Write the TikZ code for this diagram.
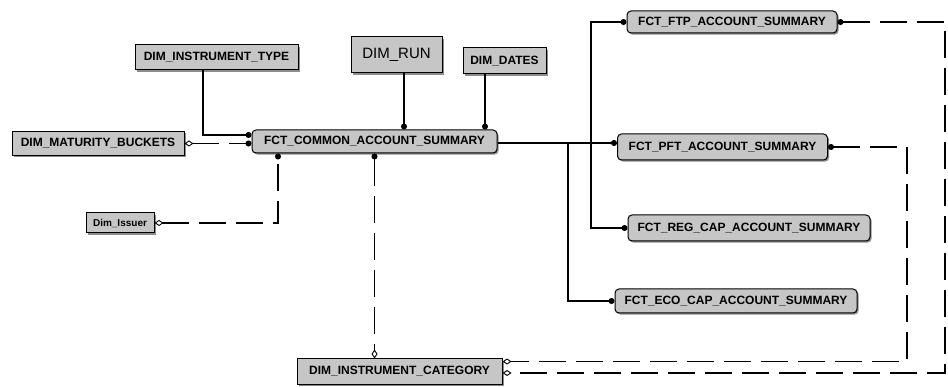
\documentclass[tikz,border=0pt]{standalone}
\usepackage{fontspec}
\setmainfont{Liberation Sans}
\newfontfamily\erfont{Liberation Sans}
\usetikzlibrary{positioning,arrows.meta,shadows}
\definecolor{erfill}{RGB}{198,198,198}
\tikzset{
  erdim/.style={rectangle, draw=black, fill=erfill, line width=1pt, inner sep=0pt,
    font=\erfont\bfseries\fontsize{12}{14}\selectfont,
    drop shadow={shadow xshift=1.6pt, shadow yshift=-1.6pt, fill=black!75, opacity=0.6}},
  erfct/.style={erdim, rounded corners=4pt},
  erlink/.style={draw=black, line width=1.1pt},
  eropt/.style={erlink, dash pattern=on 27pt off 10pt},
  erdot/.tip={Circle[length=6pt]},
  erdia/.tip={Diamond[open, length=9pt, width=6pt, line width=0.9pt]}
}
\begin{document}
\begin{tikzpicture}[x=1pt, y=-1pt]
  \useasboundingbox (0,0) rectangle (948,387);
  % dimension tables
  \node[erdim, minimum width=163pt, minimum height=25pt] (itype) at (216.5,57.5) {DIM\_INSTRUMENT\_TYPE};
  \node[erdim, minimum width=172pt, minimum height=24pt] (mat) at (98,143.5) {DIM\_MATURITY\_BUCKETS};
  \node[erdim, minimum width=91pt, minimum height=36pt, font=\fontsize{15}{18}\selectfont] (run) at (396.5,55) {DIM\_RUN};
  \node[erdim, minimum width=83pt, minimum height=26pt] (dates) at (504.5,61) {DIM\_DATES};
  \node[erdim, minimum width=68pt, minimum height=20pt, font=\erfont\bfseries\fontsize{10}{12}\selectfont] (issuer) at (120,223) {Dim\_Issuer};
  \node[erdim, minimum width=205pt, minimum height=25pt] (cat) at (399.5,371.5) {DIM\_INSTRUMENT\_CATEGORY};
  % fact tables
  \node[erfct, minimum width=245pt, minimum height=23pt] (common) at (374.5,141.5) {FCT\_COMMON\_ACCOUNT\_SUMMARY};
  \node[erfct, minimum width=210pt, minimum height=22pt] (ftp) at (732,22) {FCT\_FTP\_ACCOUNT\_SUMMARY};
  \node[erfct, minimum width=210pt, minimum height=26pt] (pft) at (722.5,147) {FCT\_PFT\_ACCOUNT\_SUMMARY};
  \node[erfct, minimum width=242pt, minimum height=26pt] (regcap) at (749,228) {FCT\_REG\_CAP\_ACCOUNT\_SUMMARY};
  \node[erfct, minimum width=242pt, minimum height=24pt] (ecocap) at (736,301) {FCT\_ECO\_CAP\_ACCOUNT\_SUMMARY};
  % links into the common summary
  \draw[erlink, -{erdot}] ([xshift=-13.5pt]itype.south) |- ([yshift=6.5pt]common.west);
  \draw[eropt, {erdia}-{erdot}] (mat.east) -- (mat.east -| common.west);
  \draw[eropt, {erdia}-{erdot}] (issuer.east) -| ([xshift=-96.5pt]common.south);
  \draw[erlink, -{erdot}] ([xshift=7.5pt]run.south) -- ([xshift=7.5pt]run.south |- common.north);
  \draw[erlink, -{erdot}] ([xshift=-19.5pt]dates.south) -- ([xshift=-19.5pt]dates.south |- common.north);
  \draw[eropt, {erdot}-{erdia}] (common.south) -- (common.south |- cat.north);
  % links to the other summaries
  \coordinate (jeco) at (568,143);
  \coordinate (jftp) at (591,143);
  \draw[erlink, -{erdot}] (common.east |- jftp) -- (jftp -| pft.west);
  \draw[erlink, -{erdot}] (jftp) |- (ftp.west);
  \draw[erlink, -{erdot}] (jftp) |- (regcap.west);
  \draw[erlink, -{erdot}] (jeco) |- (ecocap.west);
  % links down to the category
  \coordinate (cftp) at (945,373);
  \coordinate (cpft) at (907,361.5);
  \draw[eropt, {erdot}-{erdia}] (ftp.east) -| (cftp) -- (cftp -| cat.east);
  \draw[eropt, {erdot}-{erdia}] (pft.east) -| (cpft) -- (cpft -| cat.east);
\end{tikzpicture}
\end{document}
